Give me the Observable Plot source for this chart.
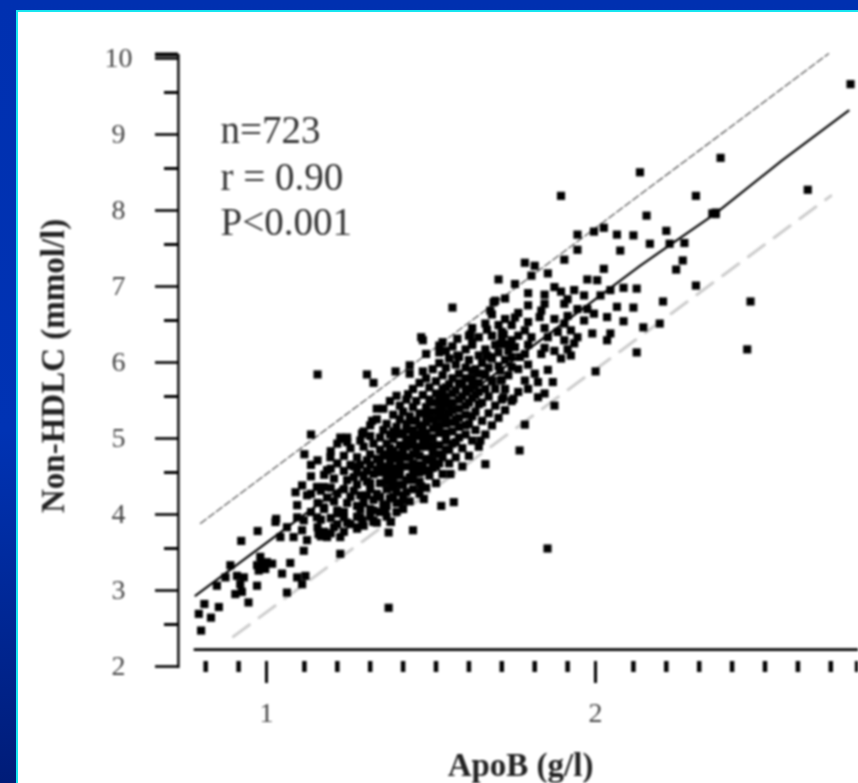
<!DOCTYPE html>
<html>
<head>
<meta charset="utf-8">
<script src="https://cdn.jsdelivr.net/npm/d3@7"></script>
<script src="https://cdn.jsdelivr.net/npm/@observablehq/plot@0.6"></script>
<style>
html,body{margin:0;padding:0;width:858px;height:783px;overflow:hidden}
body{background:linear-gradient(#0030b0 0%,#0033b4 55%,#001c78 100%);position:relative}
#panel{position:absolute;left:16px;top:10px;right:0;bottom:0;background:#fff;border-left:2px solid #19e6f0;border-top:2px solid #19e6f0}
#chart{position:absolute;left:0;top:0}
#chart svg{display:block;filter:blur(1px)}
</style>
</head>
<body>
<div id="panel"></div>
<div id="chart"></div>
<script>
const xTicksMajor = [1, 2];
const xTicksMinor = [0.8,0.9,1.1,1.2,1.3,1.4,1.5,1.6,1.7,1.8,1.9,2.1,2.2,2.3,2.4,2.5,2.6,2.7,2.78];
const yTicksMajor = [2,3,4,5,6,7,8,9,10];
const yTicksMinor = [2.5,3.5,4.5,5.5,6.5,7.5,8.5,9.5];
const yTickHeavy = [10];
const statLabels = ["n=723","r = 0.90","P<0.001"];
const statX = [0.845,0.845,0.845];
const statY = [8.83,8.22,7.63];

const upperLine = [[0.784,3.83],[2.693,10.01]];
const fitLine = [[0.769,2.88],[1.07,3.85],[1.32,4.65],[1.75,6.02],[2.12,7.22],[2.35,7.91],[2.55,8.60],[2.754,9.26]];
const lowerLine = [[0.884,2.34],[2.70,8.14]];

const outliers = [[2.76,9.61],[2.365,8.64],[2.29,8.14],[2.35,7.90],[2.35,7.92],[2.34,7.91],[2.63,8.22],[2.12,8.45],[1.88,8.14],[2.456,6.75],[2.446,6.12],[1.839,3.5],[1.356,2.72],[1.43,3.74],[1.14,5.79]];

const upperCloud = [[1.93,7.63],[1.98,7.67],[2.01,7.72],[2.05,7.63],[2.10,7.62],[2.14,7.88],[2.20,7.68],[2.15,7.51],[2.21,7.51],[2.255,7.52],[1.93,7.43],[2.06,7.42],[1.89,7.30],[1.77,7.26],[1.80,7.22],[1.84,7.12],[1.79,7.09],[2.01,7.18],[2.25,7.29],[2.23,7.17],[1.69,7.04],[1.74,6.98],[1.96,7.04],[1.99,7.03],[2.29,6.96],[1.88,6.88],[2.03,6.90],[2.07,6.93],[2.11,6.92],[1.71,6.79],[1.68,6.76],[1.83,6.84],[1.95,6.83],[2.00,6.83],[2.19,6.75],[1.78,6.70],[1.82,6.63],[1.815,6.545],[1.89,6.72],[1.93,6.65],[1.96,6.65],[2.05,6.68],[2.10,6.67],[1.98,6.59],[1.74,6.54],[2.02,6.545],[1.95,6.50],[2.07,6.49],[2.13,6.41],[2.18,6.46],[1.655,6.38],[1.70,6.35],[1.77,6.37],[1.79,6.28],[1.975,6.33],[2.03,6.33],[2.02,6.24],[1.89,6.46],[1.91,6.37],[1.87,6.35],[1.84,6.28],[1.93,6.28],[1.89,6.24],[2.11,6.08],[1.91,6.04],[1.88,6.00],[1.82,6.06],[1.77,6.06],[1.74,6.15],[1.695,6.19],[1.655,6.04],[1.73,6.02],[1.755,6.02],[1.985,5.83],[1.80,5.80],[1.84,5.85],[1.77,5.71],[1.81,5.69],[1.855,5.69],[1.83,5.54],[1.645,5.80],[1.695,5.84],[1.73,5.89],[1.67,5.71],[1.705,5.49],[1.735,5.47],[1.81,5.49],[1.754,4.79],[1.77,5.13],[1.86,5.38]];

const midFringe = [[1.55,6.67],[1.455,6.28],[1.29,5.79],[1.31,5.68],[1.377,5.83],[1.42,5.80],[1.46,5.83],[1.52,6.215],[1.53,6.10],[1.565,6.26],[1.605,6.32],[1.61,6.215],[1.675,6.74],[1.706,6.32],[1.717,6.19],[1.666,6.02],[1.565,6.04],[1.12,5.00],[1.10,4.74],[1.32,5.34],[1.415,5.53],[1.38,5.51],[1.215,4.94],[1.23,4.90],[1.276,5.01],[1.306,5.18],[1.65,4.61],[1.544,4.48],[1.554,4.11],[1.516,4.06],[1.463,4.15],[1.455,4.32],[1.40,4.13],[1.345,4.02],[1.362,3.85],[1.31,3.85],[1.276,3.87],[1.468,4.53],[1.696,5.71],[1.635,4.92],[1.46,6.24],[1.42,5.91],[1.51,6.17],[1.60,6.30],[1.665,6.63]];

const lowCloud = [[0.786,2.42],[0.816,2.59],[0.779,2.64],[0.796,2.77],[0.84,2.73],[0.93,2.79],[1.047,2.92],[0.89,2.90],[0.91,2.93],[0.905,3.03],[0.916,3.12],[0.895,3.14],[0.956,3.01],[0.834,3.01],[0.86,3.12],[0.875,3.28],[0.956,3.28],[0.971,3.30],[0.986,3.32],[0.961,3.21],[0.981,3.23],[1.002,3.30],[0.966,3.39],[0.908,3.60],[0.958,3.73],[1.014,3.89],[1.012,3.85],[1.032,3.17],[1.057,3.31],[1.098,3.47],[1.078,3.12],[1.103,3.14],[1.093,3.03],[1.209,3.43],[1.047,3.78],[1.078,4.07],[1.073,4.24],[1.093,4.33],[1.108,4.20],[1.093,3.74],[1.067,3.65],[1.108,3.61],[1.027,3.65],[1.078,3.91],[1.098,3.87],[1.143,3.69],[1.169,3.65],[1.209,3.65],[1.138,3.91],[1.159,4.04],[1.169,4.17],[1.159,4.31],[1.138,4.31],[1.169,4.53],[1.179,4.70],[1.209,4.96],[1.275,5.01],[1.346,4.02],[1.363,3.85],[1.356,3.71],[1.31,4.0],[1.31,3.87],[1.26,3.78],[1.24,3.82],[1.27,3.91],[1.2,3.96],[1.22,3.91],[1.2,3.82]];

const coreColumns = [
 [1.12,[4.22,3.98,4.45,4.60]],[1.14,[4.10,3.78,4.66]],[1.15,[3.66,3.88,4.26]],[1.16,[4.02,4.47,3.72]],
 [1.18,[3.90,4.30,4.55,3.70,4.78]],[1.19,[4.12,3.78,4.42]],[1.20,[4.00,4.22,4.62,4.88]],
 [1.22,[3.72,3.98,4.28,4.52,4.72]],[1.23,[3.84,4.10,4.40,4.96]],[1.24,[4.18,4.60,4.82]],
 [1.26,[3.76,3.92,4.06,4.34,4.70,4.50]],[1.27,[4.20,4.02,4.60,4.92]],[1.28,[3.80,4.10,4.44,4.84,5.04]],
 [1.30,[3.92,4.02,4.28,4.36,4.60,4.74,4.98,5.12]],[1.31,[4.14,4.48,4.88]],[1.32,[3.84,4.22,4.54,4.68,5.20]],
 [1.33,[3.98,4.36,4.80,4.96]],[1.34,[4.08,4.58,4.74,5.06,5.34]],[1.35,[3.92,4.28,4.46,4.88,5.14]],
 [1.36,[4.16,4.66,4.82,5.00,5.44]],[1.37,[4.38,4.56,4.94,5.26]],[1.38,[3.98,4.10,4.24,4.72,5.10]],
 [1.39,[4.46,4.64,4.86,5.20,5.38]],[1.40,[4.02,4.20,4.34,4.78,5.02,5.30]],[1.41,[4.58,4.94,5.14,5.46]],
 [1.42,[4.12,4.44,4.70,4.86,5.24]],[1.43,[4.28,4.62,5.06,5.36,5.60]],[1.44,[4.50,4.80,4.98,5.18,5.44]],
 [1.45,[4.22,4.38,4.72,5.28,5.68]],[1.46,[4.58,4.92,5.10,5.52]],[1.47,[4.30,4.84,5.02,5.36,5.74,6.06]],
 [1.48,[4.46,4.66,5.20,5.46,5.62]],[1.49,[4.76,4.96,5.30,5.86]],[1.50,[4.36,4.58,5.10,5.54,5.70]],
 [1.51,[4.86,5.02,5.22,5.42,5.94,6.08]],[1.52,[4.48,4.70,5.34,5.60,5.78]],[1.53,[4.92,5.14,5.50,5.88]],
 [1.54,[4.62,4.80,5.28,5.66,6.00]],[1.55,[5.04,5.42,5.74,6.16]],[1.56,[4.70,4.90,5.20,5.58,5.92]],
 [1.57,[5.10,5.34,5.80,6.02]],[1.58,[4.58,4.82,5.50,5.66]],[1.59,[5.00,5.26,5.88,6.12]],
 [1.60,[4.72,5.14,5.42,5.60,5.98]],[1.61,[4.92,5.74,6.18,6.40]],[1.62,[5.06,5.30,5.52,5.86]],
 [1.63,[4.84,5.68,6.04,6.28]],[1.64,[5.18,5.42,5.94]],[1.65,[5.00,5.60,5.78,6.12,6.46]],
 [1.66,[5.28,5.50,5.88]],[1.67,[5.12,5.70,6.00,6.30,6.58]],[1.68,[5.38,5.60,6.18]],
 [1.69,[5.22,5.90,6.08,6.44]],[1.70,[5.46,5.72,6.26]],[1.71,[5.32,5.60,5.98,6.52]],
 [1.72,[5.78,6.10]],[1.73,[5.44,6.24,6.44]],[1.75,[5.56,5.86,6.30,6.60]],
 [1.78,[5.60,5.92,6.18,6.48,6.86]],[1.83,[6.14,6.40,6.72]],[1.86,[6.10,6.52,6.94]],
 [1.90,[6.12,6.56,6.78]],[1.92,[6.20,6.90]]
];

const darkCore = [
 [1.25,[4.26,4.44,4.58]],[1.29,[4.20,4.38,4.52,4.66]],[1.33,[4.18,4.50,4.64]],
 [1.35,[4.06,4.38,4.56,4.72]],[1.37,[4.18,4.30,4.46,4.68,4.78,5.04]],[1.39,[4.10,4.34,4.56,4.74,5.00]],
 [1.41,[4.24,4.40,4.70,4.84,5.06]],[1.43,[4.40,4.52,4.74,4.88,4.98,5.18]],[1.45,[4.50,4.60,4.84,5.00,5.12]],
 [1.47,[4.52,4.68,4.94,5.16,5.26]],[1.49,[4.56,4.66,4.86,5.08,5.20,5.42]],[1.51,[4.62,4.74,5.12,5.32,5.52]],
 [1.53,[4.80,5.02,5.24,5.40,5.62]],[1.55,[4.88,5.16,5.32,5.54]],[1.57,[4.96,5.22,5.46,5.68]],
 [1.59,[5.12,5.38,5.56,5.74]],[1.61,[5.24,5.48,5.64,5.84]],[1.63,[5.40,5.56,5.80]]
];

const corePoints = [...coreColumns, ...darkCore].flatMap(([x, ys]) => ys.map(y => [x, y]));
const allPoints = [...outliers, ...upperCloud, ...midFringe, ...lowCloud, ...corePoints];
const serif = "'Liberation Serif', serif";

const chart = Plot.plot({
  width: 858, height: 783,
  marginLeft: 178, marginRight: 0, marginTop: 54, marginBottom: 122,
  style: {background: "transparent", fontFamily: serif},
  x: {type: "linear", domain: [1, 2], range: [271, 600]},
  y: {type: "linear", domain: [2, 10], range: [662, 54]},
  marks: [
    Plot.line(lowerLine, {x: d => d[0], y: d => d[1], stroke: "#ccc", strokeWidth: 3, strokeDasharray: "20 12"}),
    Plot.line(upperLine, {x: d => d[0], y: d => d[1], stroke: "#555", strokeWidth: 1.3, strokeDasharray: "7 3"}),
    Plot.line(fitLine, {x: d => d[0], y: d => d[1], stroke: "#000", strokeWidth: 2.2}),
    Plot.dot(allPoints, {x: d => d[0], y: d => d[1], symbol: "square", r: 4.6, fill: "#000", stroke: "none"}),
    Plot.ruleX([0.717], {y1: 1.92, y2: 10, stroke: "#000", strokeWidth: 2.4}),
    Plot.ruleY([2.17], {x1: 0.765, x2: 2.82, stroke: "#000", strokeWidth: 2.6}),
    Plot.axisY({anchor: "left", ticks: yTicksMinor, tickSize: 14, strokeWidth: 3, tickFormat: () => "", label: null}),
    Plot.axisY({anchor: "left", ticks: yTickHeavy, tickSize: 23, strokeWidth: 4, tickFormat: () => "", label: null}),
    Plot.axisY({anchor: "left", ticks: yTicksMajor, tickSize: 23, strokeWidth: 2.6, tickPadding: 37, textAnchor: "middle", fontSize: 28, fill: "#444", dy: 4, label: null}),
    Plot.axisX({anchor: "bottom", ticks: xTicksMinor, tickSize: 11, strokeWidth: 4.5, tickFormat: () => "", label: null}),
    Plot.axisX({anchor: "bottom", ticks: xTicksMajor, tickSize: 22, strokeWidth: 3, tickPadding: 19, tickFormat: d3.format("d"), fontSize: 28, fill: "#444", dx: -5, label: null}),
    Plot.text(statLabels, {x: statX, y: statY, text: d => d, textAnchor: "start", lineAnchor: "bottom", fontSize: 39, fill: "#333"}),
    Plot.text(["Non-HDLC (mmol/l)"], {frameAnchor: "left", dx: -125, dy: 155, rotate: -90, fontSize: 33, fontWeight: "bold", fill: "#222"}),
    Plot.text(["ApoB (g/l)"], {frameAnchor: "bottom", dx: 2, dy: 114, fontSize: 33, fontWeight: "bold", fill: "#222", letterSpacing: "2px"})
  ]
});
document.getElementById("chart").appendChild(chart);
</script>
</body>
</html>
